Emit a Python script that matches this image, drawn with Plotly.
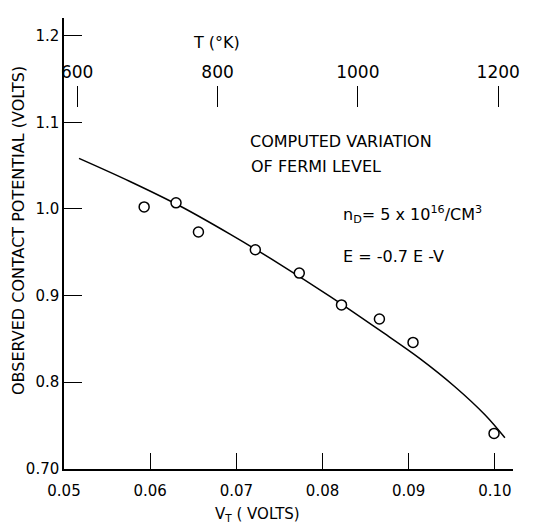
import plotly.graph_objects as go

# ---- data ----
vt_obs = [0.0593, 0.0630, 0.0656, 0.0722, 0.0773, 0.0822, 0.0866, 0.0905, 0.0999]
cp_obs = [1.0024, 1.0071, 0.9734, 0.9529, 0.9259, 0.8891, 0.8729, 0.8458, 0.7406]

vt_fit = [0.05174, 0.05766, 0.06346, 0.06926, 0.07506, 0.08086, 0.08666,
          0.09130, 0.09536, 0.09884, 0.10116]
cp_fit = [1.0585, 1.0318, 1.0034, 0.9709, 0.9361, 0.8990, 0.8596,
          0.8271, 0.7946, 0.7622, 0.7356]

x_ticks = [0.05, 0.06, 0.07, 0.08, 0.09, 0.10]
x_ticktext = ["0.05", "0.06", "0.07", "0.08", "0.09", "0.10"]
y_ticks = [0.7, 0.8, 0.9, 1.0, 1.1, 1.2]
y_ticktext = ["0.70", "0.8", "0.9", "1.0", "1.1", "1.2"]
t_ticks = [600, 800, 1000, 1200]
t_ticktext = ["600", "800", "1000", "1200"]

FONT = "DejaVu Sans"
OFF = 8                      # page body margin offset
W, H = 551 - OFF, 527 - OFF
# plot area in page pixels
L, R, T, B = 64, 513, 18, 469
Lf, Rf, Tf, Bf = L - OFF, R - OFF, T - OFF, B - OFF


def px(xp):
    return (xp - L) / (R - L)


def py(yp):
    return (B - yp) / (B - T)


fig = go.Figure()
fig.add_trace(go.Scatter(x=vt_fit, y=cp_fit, mode="lines",
                         line=dict(color="black", width=1.5, shape="spline", smoothing=1.0),
                         showlegend=False, hoverinfo="skip"))
fig.add_trace(go.Scatter(x=vt_obs, y=cp_obs, mode="markers",
                         marker=dict(symbol="circle", size=10, color="white",
                                     line=dict(color="black", width=1.5)),
                         showlegend=False))
fig.add_trace(go.Scatter(x=t_ticks, y=[None] * len(t_ticks), xaxis="x2", mode="markers",
                         showlegend=False, hoverinfo="skip"))

fig.update_layout(
    width=W, height=H,
    margin=dict(l=Lf, r=W - Rf, t=Tf, b=H - Bf, autoexpand=False),
    paper_bgcolor="white", plot_bgcolor="white",
    font=dict(family=FONT, color="black", size=15),
    xaxis=dict(range=[0.05, 0.1021], tickvals=x_ticks, ticktext=x_ticktext,
               ticks="inside", ticklen=16, tickwidth=1, tickcolor="black",
               showline=True, linecolor="black", linewidth=1.5, automargin=False,
               ticklabelstandoff=7,
               showgrid=False, zeroline=False, tickfont=dict(size=15)),
    yaxis=dict(range=[0.6995, 1.2207], tickvals=y_ticks, ticktext=y_ticktext,
               ticks="inside", ticklen=18, tickwidth=1, tickcolor="black",
               showline=True, linecolor="black", linewidth=1.5, automargin=False,
               showgrid=False, zeroline=False, tickfont=dict(size=15)),
    xaxis2=dict(overlaying="x", anchor="free", position=py(85), side="top",
                range=[581.2, 1221.1], tickvals=t_ticks, ticktext=t_ticktext,
                ticks="inside", ticklen=21, tickwidth=1, tickcolor="black",
                showline=False, showgrid=False, zeroline=False, automargin=False,
                ticklabelstandoff=4,
                tickfont=dict(size=17)),
)

ann = [
    dict(text="OBSERVED CONTACT POTENTIAL (VOLTS)", x=px(18), y=py(231), textangle=-90,
         font=dict(size=16), xanchor="center", yanchor="middle"),
    dict(text="V<sub>T</sub> ( VOLTS)", x=px(257), y=py(514), font=dict(size=15),
         xanchor="center", yanchor="middle"),
    dict(text="T (°K)", x=px(216), y=py(42), font=dict(size=16),
         xanchor="center", yanchor="middle"),
    dict(text="COMPUTED VARIATION", x=px(248), y=py(141), font=dict(size=16),
         xanchor="left", yanchor="middle"),
    dict(text="OF FERMI LEVEL", x=px(249), y=py(166), font=dict(size=16),
         xanchor="left", yanchor="middle"),
    dict(text="n<sub>D</sub>= 5 x 10<sup>16</sup>/CM<sup>3</sup>", x=px(341), y=py(214),
         font=dict(size=16), xanchor="left", yanchor="middle"),
    dict(text="E = -0.7 E -V", x=px(341), y=py(256), font=dict(size=16),
         xanchor="left", yanchor="middle"),
]
for a in ann:
    a.update(xref="paper", yref="paper", showarrow=False)
    fig.add_annotation(**a)

fig.write_html("out.html")
